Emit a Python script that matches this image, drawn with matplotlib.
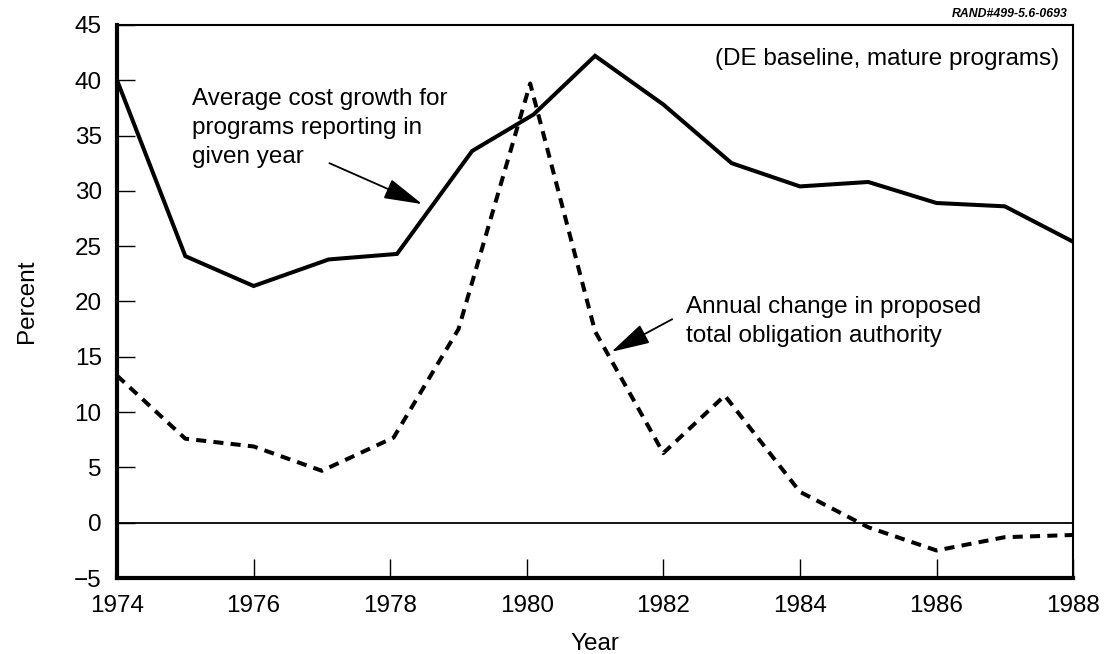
import matplotlib
matplotlib.use("Agg")
import matplotlib.pyplot as plt

plt.rcParams['font.family'] = ['Liberation Sans', 'DejaVu Sans']

# average cost growth for programs reporting in given year (solid)
cost_years = [1974, 1975, 1976, 1977.1, 1978.1, 1979.2, 1980.1, 1981, 1982, 1983, 1984, 1985, 1986, 1987, 1988]
cost_growth = [40.0, 24.1, 21.4, 23.8, 24.3, 33.6, 36.9, 42.2, 37.8, 32.5, 30.4, 30.8, 28.9, 28.6, 25.4]

# annual change in proposed total obligation authority (dashed)
toa_years = [1974, 1975, 1976, 1977, 1978.05, 1979, 1980.05, 1981, 1982, 1982.9, 1984, 1985, 1986, 1987, 1988]
toa_change = [13.3, 7.6, 6.9, 4.7, 7.7, 17.5, 39.7, 17.3, 6.3, 11.5, 2.8, -0.4, -2.5, -1.3, -1.1]

x_ticks = [1974, 1976, 1978, 1980, 1982, 1984, 1986, 1988]
y_ticks = [-5, 0, 5, 10, 15, 20, 25, 30, 35, 40, 45]

FS = 17.5

fig = plt.figure(figsize=(11.04, 6.54), dpi=100)
ax = fig.add_axes([0.106, 0.116, 0.866, 0.846])

ax.plot(cost_years, cost_growth, color='black', lw=2.9, solid_joinstyle='miter')
ax.plot(toa_years, toa_change, color='black', lw=2.9, dashes=(2.5, 1.8),
        dash_joinstyle='round', dash_capstyle='butt')
ax.axhline(0, color='black', lw=1.3)

ax.set_xlim(1974, 1988)
ax.set_ylim(-5, 45)
ax.set_xticks(x_ticks)
ax.set_yticks(y_ticks)
ax.tick_params(axis='x', direction='in', length=14, width=1.0, pad=12, labelsize=FS)
ax.tick_params(axis='y', direction='in', length=13, width=1.0, pad=11, labelsize=FS)

for side in ['left', 'bottom']:
    ax.spines[side].set_linewidth(3.0)
for side in ['top', 'right']:
    ax.spines[side].set_linewidth(1.5)

ax.set_xlabel('Year', fontsize=FS, labelpad=12)
ax.set_ylabel('Percent', fontsize=FS, labelpad=26)

arrow = dict(arrowstyle='-|>,head_length=1.2,head_width=0.32', color='black',
             lw=1.3, shrinkA=0, shrinkB=0, mutation_scale=20)

ax.text(1975.1, 39.3, 'Average cost growth for\nprograms reporting in\ngiven year',
        fontsize=FS, va='top', ha='left', linespacing=1.42)
ax.annotate('', xy=(1978.47, 28.8), xytext=(1977.11, 32.5), arrowprops=arrow)

ax.text(1982.33, 20.5, 'Annual change in proposed\ntotal obligation authority',
        fontsize=FS, va='top', ha='left', linespacing=1.42)
ax.annotate('', xy=(1981.24, 15.45), xytext=(1982.13, 18.4), arrowprops=arrow)

ax.text(0.985, 0.958, '(DE baseline, mature programs)', transform=ax.transAxes,
        ha='right', va='top', fontsize=FS)

fig.text(0.967, 0.988, 'RAND#499-5.6-0693', ha='right', va='top',
         fontsize=8.8, style='italic', weight='bold')

fig.savefig('out.png', dpi=100)
